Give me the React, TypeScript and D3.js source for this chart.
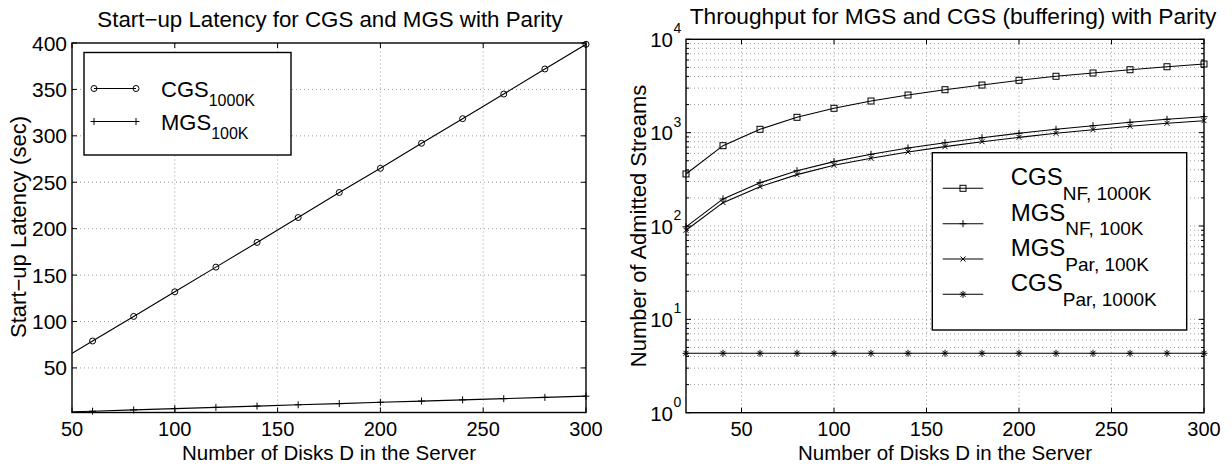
import React from "react";
import * as d3 from "d3";

// ---------- data ----------
const disks = [20, 40, 60, 80, 100, 120, 140, 160, 180, 200, 220, 240, 260, 280, 300];

// Left: start-up latency (sec)
const cgsLatency1000K = [25.8, 52.4, 79, 105.5, 132, 158.6, 185.2, 212, 239, 265, 292, 318.5, 345, 372, 398.6];
const mgsLatency100K = [0.7, 2.1, 3.4, 4.8, 6.2, 7.5, 8.9, 10.3, 11.6, 13.0, 14.3, 15.6, 16.9, 18.3, 19.6];

// Right: number of admitted streams
const cgsNF1000K = [361, 725, 1086, 1460, 1824, 2183, 2530, 2884, 3236, 3636, 4018, 4356, 4723, 5083, 5433];
const mgsNF100K = [98, 195, 291, 391, 489, 586, 685, 780, 883, 984, 1086, 1187, 1291, 1390, 1483];
const mgsPar100K = [90, 178, 264, 355, 447, 531, 621, 708, 800, 891, 984, 1076, 1170, 1259, 1343];
const cgsPar1000K = [4.33, 4.33, 4.33, 4.33, 4.33, 4.33, 4.33, 4.33, 4.33, 4.33, 4.33, 4.33, 4.33, 4.33, 4.33];

const leftXTicks = [50, 100, 150, 200, 250, 300];
const leftYTicks = [50, 100, 150, 200, 250, 300, 350, 400];
const rightXTicks = [50, 100, 150, 200, 250, 300];
const rightYExponents = [0, 1, 2, 3, 4];

const FONT = "'Liberation Sans', Arial, Helvetica, sans-serif";

type MarkerKind = "circle" | "plus" | "square" | "x" | "star";

function Marker({ kind, x, y }: { kind: MarkerKind; x: number; y: number }) {
  const s = { stroke: "#000", strokeWidth: 1, fill: "none" } as const;
  if (kind === "circle") return <circle cx={x} cy={y} r={3} {...s} />;
  if (kind === "square") return <rect x={x - 3} y={y - 3} width={6} height={6} {...s} />;
  if (kind === "plus")
    return <path d={`M${x - 3.5},${y}H${x + 3.5}M${x},${y - 3.5}V${y + 3.5}`} {...s} />;
  if (kind === "x")
    return <path d={`M${x - 2.5},${y - 2.5}L${x + 2.5},${y + 2.5}M${x - 2.5},${y + 2.5}L${x + 2.5},${y - 2.5}`} {...s} />;
  return (
    <path
      d={`M${x - 3.5},${y}H${x + 3.5}M${x},${y - 3.5}V${y + 3.5}M${x - 2.5},${y - 2.5}L${x + 2.5},${y + 2.5}M${x - 2.5},${y + 2.5}L${x + 2.5},${y - 2.5}`}
      {...s}
    />
  );
}

const TICK_BASE = 435.5;
const TICK_FS = 20;
const XLABEL_BASE = 459.5;
const XLABEL_FS = 20.5;

function LeftChart() {
  const x = d3.scaleLinear().domain([50, 300]).range([72, 586]);
  const y = d3.scaleLinear().domain([2, 400]).range([412.5, 43]);
  const [x0, x1] = x.range();
  const [y0, y1] = y.range();
  const line = d3
    .line<number>()
    .x((_, i) => x(disks[i]))
    .y((d) => y(d));
  const series: { vals: number[]; m: MarkerKind }[] = [
    { vals: cgsLatency1000K, m: "circle" },
    { vals: mgsLatency100K, m: "plus" },
  ];
  return (
    <g>
      <defs>
        <clipPath id="clipL">
          <rect x={x0} y={y1} width={x1 - x0} height={y0 - y1} />
        </clipPath>
      </defs>
      {/* grid */}
      {leftXTicks.filter((t) => t > 50 && t < 300).map((t) => (
        <line key={"gx" + t} x1={x(t)} x2={x(t)} y1={y0} y2={y1} stroke="#888" strokeWidth={0.8} strokeDasharray="1 3" />
      ))}
      {leftYTicks.filter((t) => t < 400).map((t) => (
        <line key={"gy" + t} x1={x0} x2={x1} y1={y(t)} y2={y(t)} stroke="#888" strokeWidth={0.8} strokeDasharray="1 3" />
      ))}
      {/* ticks */}
      {leftXTicks.map((t) => (
        <g key={"tx" + t}>
          <line x1={x(t)} x2={x(t)} y1={y0} y2={y0 - 5} stroke="#000" />
          <line x1={x(t)} x2={x(t)} y1={y1} y2={y1 + 5} stroke="#000" />
          <text x={x(t)} y={TICK_BASE} textAnchor="middle" fontSize={TICK_FS} fontFamily={FONT}>
            {t}
          </text>
        </g>
      ))}
      {leftYTicks.map((t) => (
        <g key={"ty" + t}>
          <line x1={x0} x2={x0 + 5} y1={y(t)} y2={y(t)} stroke="#000" />
          <line x1={x1} x2={x1 - 5} y1={y(t)} y2={y(t)} stroke="#000" />
          <text x={67} y={y(t)} dy="0.36em" textAnchor="end" fontSize={21} fontFamily={FONT}>
            {t}
          </text>
        </g>
      ))}
      {/* data */}
      <g clipPath="url(#clipL)">
        {series.map((s, k) => (
          <path key={k} d={line(s.vals) || ""} fill="none" stroke="#000" strokeWidth={1.1} />
        ))}
      </g>
      {series.map((s, k) =>
        s.vals.map((v, i) =>
          disks[i] >= 50 ? <Marker key={k + "-" + i} kind={s.m} x={x(disks[i])} y={y(v)} /> : null
        )
      )}
      {/* frame */}
      <rect x={x0} y={y1} width={x1 - x0} height={y0 - y1} fill="none" stroke="#000" strokeWidth={1.4} />
      {/* legend */}
      <rect x={84} y={52.5} width={207} height={102.5} fill="#fff" stroke="#000" strokeWidth={1.4} />
      {[
        { y: 88.5, main: "CGS", sub: "1000K", m: "circle" as MarkerKind },
        { y: 121.5, main: "MGS", sub: "100K", m: "plus" as MarkerKind },
      ].map((r) => (
        <g key={r.main}>
          <line x1={94} x2={136} y1={r.y} y2={r.y} stroke="#000" strokeWidth={1.1} />
          <Marker kind={r.m} x={94} y={r.y} />
          <Marker kind={r.m} x={136} y={r.y} />
          <text x={161} y={r.y + 8.3} fontSize={22} fontFamily={FONT}>
            {r.main}
            <tspan fontSize={16} dy={9.5}>
              {r.sub}
            </tspan>
          </text>
        </g>
      ))}
      {/* labels */}
      <text x={330} y={27} textAnchor="middle" fontSize={22.3} fontFamily={FONT}>
        Start−up Latency for CGS and MGS with Parity
      </text>
      <text x={329} y={XLABEL_BASE} textAnchor="middle" fontSize={XLABEL_FS} fontFamily={FONT}>
        Number of Disks D in the Server
      </text>
      <text transform="translate(26,227) rotate(-90)" textAnchor="middle" fontSize={22} fontFamily={FONT}>
        Start−up Latency (sec)
      </text>
    </g>
  );
}

function RightChart() {
  const x = d3.scaleLinear().domain([20, 300]).range([686, 1204]);
  const y = d3.scaleLog().domain([1, 1e4]).range([412.7, 39.3]);
  const [x0, x1] = x.range();
  const [y0, y1] = y.range();
  const line = d3
    .line<number>()
    .x((_, i) => x(disks[i]))
    .y((d) => y(d));
  const minors: number[] = [];
  for (let e = 0; e < 4; e++) for (let m = 2; m <= 9; m++) minors.push(m * Math.pow(10, e));
  const majors = rightYExponents.map((e) => Math.pow(10, e));
  const series: { vals: number[]; m: MarkerKind; name: string; sub: string }[] = [
    { vals: cgsNF1000K, m: "square", name: "CGS", sub: "NF, 1000K" },
    { vals: mgsNF100K, m: "plus", name: "MGS", sub: "NF, 100K" },
    { vals: mgsPar100K, m: "x", name: "MGS", sub: "Par, 100K" },
    { vals: cgsPar1000K, m: "star", name: "CGS", sub: "Par, 1000K" },
  ];
  const legendRows = [188.3, 223.7, 259, 294.3];
  return (
    <g>
      {/* grid */}
      {rightXTicks.filter((t) => t < 300).map((t) => (
        <line key={"gx" + t} x1={x(t)} x2={x(t)} y1={y0} y2={y1} stroke="#888" strokeWidth={0.8} strokeDasharray="1 3" />
      ))}
      {[...minors, ...majors.slice(1, 4)].map((t) => (
        <line key={"gy" + t} x1={x0} x2={x1} y1={y(t)} y2={y(t)} stroke="#888" strokeWidth={0.8} strokeDasharray="1 3" />
      ))}
      {/* ticks */}
      {rightXTicks.map((t) => (
        <g key={"tx" + t}>
          <line x1={x(t)} x2={x(t)} y1={y0} y2={y0 - 5} stroke="#000" />
          <line x1={x(t)} x2={x(t)} y1={y1} y2={y1 + 5} stroke="#000" />
          <text x={x(t)} y={TICK_BASE} textAnchor="middle" fontSize={TICK_FS} fontFamily={FONT}>
            {t}
          </text>
        </g>
      ))}
      {minors.map((t) => (
        <g key={"mt" + t}>
          <line x1={x0} x2={x0 + 3} y1={y(t)} y2={y(t)} stroke="#000" />
          <line x1={x1} x2={x1 - 3} y1={y(t)} y2={y(t)} stroke="#000" />
        </g>
      ))}
      {rightYExponents.map((e) => {
        const v = Math.pow(10, e);
        return (
          <g key={"ty" + e}>
            <line x1={x0} x2={x0 + 5} y1={y(v)} y2={y(v)} stroke="#000" />
            <line x1={x1} x2={x1 - 5} y1={y(v)} y2={y(v)} stroke="#000" />
            <text x={673} y={y(v) + 7.8} textAnchor="end" fontSize={20.5} fontFamily={FONT}>
              10
            </text>
            <text x={673.5} y={y(v) - 6} textAnchor="start" fontSize={14} fontFamily={FONT}>
              {e}
            </text>
          </g>
        );
      })}
      {/* data */}
      {series.map((s, k) => (
        <path key={k} d={line(s.vals) || ""} fill="none" stroke="#000" strokeWidth={1.1} />
      ))}
      {series.map((s, k) =>
        s.vals.map((v, i) => <Marker key={k + "-" + i} kind={s.m} x={x(disks[i])} y={y(v)} />)
      )}
      {/* frame */}
      <rect x={x0} y={y1} width={x1 - x0} height={y0 - y1} fill="none" stroke="#000" strokeWidth={1.4} />
      {/* legend */}
      <rect x={932.3} y={152.7} width={254.4} height={177.3} fill="#fff" stroke="#000" strokeWidth={1.4} />
      {series.map((s, k) => (
        <g key={"lg" + k}>
          <line x1={942.7} x2={983.3} y1={legendRows[k]} y2={legendRows[k]} stroke="#000" strokeWidth={1.1} />
          <Marker kind={s.m} x={963} y={legendRows[k]} />
          <text x={1010.7} y={legendRows[k] - 3} fontSize={24} fontFamily={FONT}>
            {s.name}
            <tspan fontSize={19} dy={14.5}>
              {s.sub}
            </tspan>
          </text>
        </g>
      ))}
      {/* labels */}
      <text x={953} y={23.5} textAnchor="middle" fontSize={22.7} fontFamily={FONT}>
        Throughput for MGS and CGS (buffering) with Parity
      </text>
      <text x={945} y={XLABEL_BASE} textAnchor="middle" fontSize={XLABEL_FS} fontFamily={FONT}>
        Number of Disks D in the Server
      </text>
      <text transform="translate(646,226) rotate(-90)" textAnchor="middle" fontSize={22} fontFamily={FONT}>
        Number of Admitted Streams
      </text>
    </g>
  );
}

export default function App() {
  return (
    <svg
      width={1232}
      height={466}
      viewBox="0 0 1232 466"
      style={{ position: "absolute", left: 0, top: 0, background: "#fff" }}
    >
      <LeftChart />
      <RightChart />
    </svg>
  );
}
